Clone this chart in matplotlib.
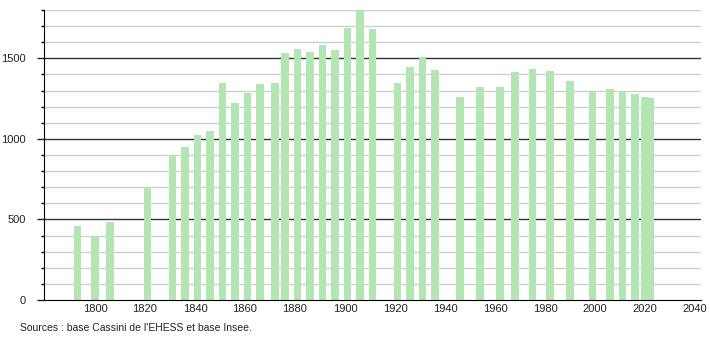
import matplotlib
matplotlib.use("Agg")
import matplotlib.pyplot as plt

plt.rcParams['font.family'] = ['Liberation Sans', 'DejaVu Sans']

# Années des recensements et population
annees = [1793, 1800, 1806, 1821, 1831, 1836, 1841, 1846, 1851, 1856,
          1861, 1866, 1872, 1876, 1881, 1886, 1891, 1896, 1901, 1906,
          1911, 1921, 1926, 1931, 1936, 1946, 1954, 1962, 1968, 1975,
          1982, 1990, 1999, 2006, 2011, 2016, 2020, 2022]
population = [460, 397, 485, 700, 898, 952, 1022, 1052, 1348, 1220,
              1282, 1338, 1348, 1531, 1556, 1537, 1581, 1550, 1686, 1805,
              1680, 1344, 1444, 1510, 1425, 1263, 1319, 1319, 1413, 1431,
              1419, 1357, 1296, 1307, 1296, 1276, 1263, 1251]

x_ticks = [1800, 1820, 1840, 1860, 1880, 1900, 1920, 1940, 1960, 1980, 2000, 2020, 2040]
y_major = [0, 500, 1000, 1500]
y_minor = list(range(100, 1900, 100))

fig = plt.figure(figsize=(7.1, 3.4), dpi=100)
ax = fig.add_axes([44 / 710, 40 / 340, 657 / 710, 290 / 340])

# grille : lignes fines tous les 100, lignes foncées tous les 500
for v in y_minor:
    if v % 500:
        ax.axhline(v, color="#cfcfcf", lw=1, zorder=1)
for v in y_major[1:]:
    ax.axhline(v, color="#333333", lw=1, zorder=1)

ax.bar(annees, population, width=3.1, color="#b3e6b3", zorder=2)

ax.set_xlim(1779.6, 2042.4)
ax.set_ylim(0, 1800)
ax.set_xticks(x_ticks)
ax.set_yticks(y_major)
ax.set_yticks(y_minor, minor=True)
ax.tick_params(axis="x", length=0, pad=3, labelsize=8, colors="#222222")
ax.tick_params(axis="y", which="major", length=5, width=1, labelsize=8, pad=8, colors="#222222")
ax.tick_params(axis="y", which="minor", length=2, width=1)

for s in ["top", "right"]:
    ax.spines[s].set_visible(False)
ax.spines["left"].set_color("black")
ax.spines["bottom"].set_color("black")

fig.text(20 / 710, 1 - 328 / 340, "Sources : base Cassini de l'EHESS et base Insee.",
         fontsize=7.5, color="#222222", va="center", ha="left")

fig.savefig("out.png", dpi=100)
